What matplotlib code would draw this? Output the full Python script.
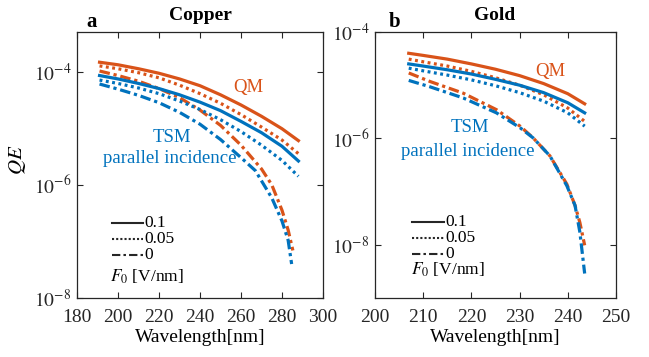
import numpy as np
import matplotlib
matplotlib.use("Agg")
import matplotlib.pyplot as plt
from matplotlib.ticker import FixedLocator, NullLocator

plt.rcParams['font.family'] = ['Liberation Serif', 'DejaVu Serif']
plt.rcParams['mathtext.fontset'] = 'stix'

ORANGE = '#D95319'
BLUE = '#0072BD'

# ---------------- Copper data (log10 QE) ----------------
cu_wl = [191, 200, 210, 220, 230, 240, 250, 260, 270, 280, 288]
cu_qm_01 = [-3.835, -3.88, -3.95, -4.03, -4.13, -4.25, -4.41, -4.59, -4.79, -5.01, -5.22]
cu_qm_005 = [-3.90, -3.95, -4.02, -4.11, -4.24, -4.39, -4.56, -4.76, -4.98, -5.21, -5.45]
cu_tsm_01 = [-4.07, -4.13, -4.21, -4.30, -4.41, -4.54, -4.69, -4.88, -5.08, -5.32, -5.58]
cu_tsm_005 = [-4.15, -4.21, -4.29, -4.39, -4.52, -4.67, -4.85, -5.06, -5.30, -5.57, -5.85]
cu_wl_qm0 = [191, 200, 210, 220, 230, 240, 250, 260, 270, 275, 280, 283, 285.3]
cu_qm_0 = [-3.99, -4.07, -4.17, -4.30, -4.46, -4.68, -4.95, -5.30, -5.72, -6.0, -6.45, -6.80, -7.16]
cu_wl_tsm0 = [191, 200, 210, 220, 230, 240, 250, 260, 267, 270, 275, 280, 283, 284.7]
cu_tsm_0 = [-4.22, -4.31, -4.42, -4.55, -4.72, -4.93, -5.20, -5.52, -5.75, -5.93, -6.23, -6.64, -6.98, -7.40]

# ---------------- Gold data (log10 QE) ----------------
au_wl = [207, 210, 215, 220, 225, 230, 235, 240, 243.5]
au_qm_01 = [-4.40, -4.44, -4.51, -4.60, -4.70, -4.82, -4.97, -5.16, -5.35]
au_qm_005 = [-4.51, -4.56, -4.64, -4.74, -4.86, -5.00, -5.18, -5.43, -5.68]
au_tsm_01 = [-4.60, -4.64, -4.71, -4.79, -4.89, -5.00, -5.14, -5.33, -5.52]
au_tsm_005 = [-4.68, -4.73, -4.81, -4.90, -5.01, -5.14, -5.30, -5.52, -5.77]
au_wl0 = [207, 211.4, 218.3, 225.2, 230.1, 232.8, 236.3, 239.8, 241.5, 242.5, 243.5]
au_qm_0 = [-4.77, -4.93, -5.15, -5.46, -5.77, -5.99, -6.33, -6.86, -7.26, -7.58, -8.01]
au_tsm_0 = [-4.91, -5.03, -5.24, -5.52, -5.80, -5.99, -6.33, -6.89, -7.26, -7.76, -8.54]

legend_labels = ['0.1', '0.05', '0']

LW = 2.3
DOT = (0, (0.9, 1.1))
DASHDOT = (0, (3.3, 1.2, 1.0, 1.2))

W, H = 649, 357
fig = plt.figure(figsize=(W / 100, H / 100), dpi=100)


def px_axes(x0, x1, y0, y1):
    return fig.add_axes([x0 / W, 1 - y1 / H, (x1 - x0) / W, (y1 - y0) / H])


axL = px_axes(77, 323, 32, 298)
axR = px_axes(375, 616, 32, 298)


def P(v):
    return 10 ** np.asarray(v)


# Copper
axL.plot(cu_wl, P(cu_qm_01), color=ORANGE, lw=LW, ls='-')
axL.plot(cu_wl, P(cu_qm_005), color=ORANGE, lw=LW, ls=DOT)
axL.plot(cu_wl_qm0, P(cu_qm_0), color=ORANGE, lw=LW, ls=DASHDOT)
axL.plot(cu_wl, P(cu_tsm_01), color=BLUE, lw=LW, ls='-')
axL.plot(cu_wl, P(cu_tsm_005), color=BLUE, lw=LW, ls=DOT)
axL.plot(cu_wl_tsm0, P(cu_tsm_0), color=BLUE, lw=LW, ls=DASHDOT)

# Gold
axR.plot(au_wl, P(au_qm_01), color=ORANGE, lw=LW, ls='-')
axR.plot(au_wl, P(au_qm_005), color=ORANGE, lw=LW, ls=DOT)
axR.plot(au_wl0, P(au_qm_0), color=ORANGE, lw=LW, ls=DASHDOT)
axR.plot(au_wl, P(au_tsm_01), color=BLUE, lw=LW, ls='-')
axR.plot(au_wl, P(au_tsm_005), color=BLUE, lw=LW, ls=DOT)
axR.plot(au_wl0, P(au_tsm_0), color=BLUE, lw=LW, ls=DASHDOT)

FS = 14
for ax in (axL, axR):
    ax.set_yscale('log')
    ax.yaxis.set_minor_locator(NullLocator())
    ax.tick_params(direction='in', which='both', top=True, right=True,
                   length=4, width=0.8, labelsize=FS, colors='#262626', pad=4)
    ax.tick_params(axis='x', pad=8)
    for s in ax.spines.values():
        s.set_linewidth(0.9)
        s.set_color('#262626')
    ax.set_xlabel('Wavelength[nm]', fontsize=FS, labelpad=2)

axL.set_xlim(180, 300)
axL.set_xticks([180, 200, 220, 240, 260, 280, 300])
axL.set_ylim(1e-8, 5e-4)
axL.yaxis.set_major_locator(FixedLocator([1e-8, 1e-6, 1e-4]))
axL.set_ylabel('$QE$', fontsize=FS + 1)
axL.yaxis.set_label_coords(-0.20, 0.52)

axR.set_xlim(200, 250)
axR.set_xticks([200, 210, 220, 230, 240, 250])
axR.set_ylim(1e-9, 1e-4)
axR.yaxis.set_major_locator(FixedLocator([1e-8, 1e-6, 1e-4]))

for ax in (axL, axR):
    ax.set_yticklabels([r'$10^{-8}$', r'$10^{-6}$', r'$10^{-4}$'])

# Titles and panel letters
fig.text(200 / W, 1 - 16 / H, 'Copper', ha='center', va='center',
         fontsize=FS, fontweight='bold')
fig.text(495 / W, 1 - 16 / H, 'Gold', ha='center', va='center',
         fontsize=FS, fontweight='bold')
fig.text(92 / W, 1 - 22 / H, 'a', ha='center', va='center',
         fontsize=FS + 1, fontweight='bold')
fig.text(395 / W, 1 - 22 / H, 'b', ha='center', va='center',
         fontsize=FS + 1, fontweight='bold')

# Annotations
TFS = 13.5
axL.text(263.4, 10 ** -4.28, 'QM', color=ORANGE, fontsize=TFS, ha='center', va='center')
axL.text(226.3, 10 ** -5.17, 'TSM', color=BLUE, fontsize=TFS, ha='center', va='center')
axL.text(225.4, 10 ** -5.54, 'parallel incidence', color=BLUE, fontsize=TFS,
         ha='center', va='center')
axR.text(236.3, 10 ** -4.75, 'QM', color=ORANGE, fontsize=TFS, ha='center', va='center')
axR.text(219.7, 10 ** -5.79, 'TSM', color=BLUE, fontsize=TFS, ha='center', va='center')
axR.text(219.3, 10 ** -6.24, 'parallel incidence', color=BLUE, fontsize=TFS,
         ha='center', va='center')

# Manual legend (line style keys)
styles = ['-', (0, (1, 1)), (0, (4, 1.5, 1.2, 1.5))]


def draw_key(ax, x0, x1, ys, ftx, fty):
    for lab, st, y in zip(legend_labels, styles, ys):
        ax.plot([x0, x1], [y, y], transform=ax.transAxes, color='#262626',
                lw=1.5, ls=st, clip_on=False)
        ax.text(x1 + 0.005, y, lab, transform=ax.transAxes, fontsize=12.5,
                ha='left', va='center')
    ax.text(ftx, fty, r'$F_0$ [V/nm]', transform=ax.transAxes, fontsize=12.5,
            ha='left', va='center')


draw_key(axL, 0.142, 0.268, [0.282, 0.222, 0.162], 0.134, 0.080)
draw_key(axR, 0.154, 0.286, [0.286, 0.226, 0.165], 0.149, 0.105)

fig.savefig('out.png', dpi=100)
